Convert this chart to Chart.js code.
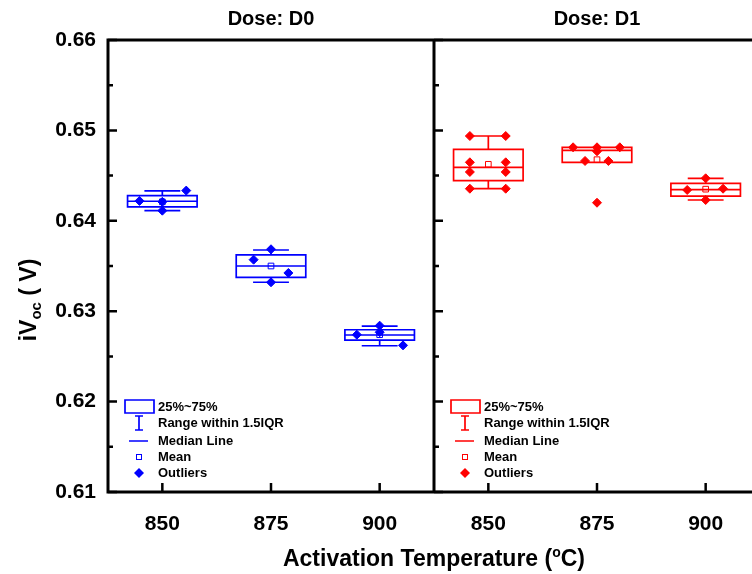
<!DOCTYPE html>
<html lang="en">
<head>
<meta charset="UTF-8" />
<title>iVoc vs activation temperature</title>
<script src="https://cdn.jsdelivr.net/npm/chart.js"></script>
<style>
  html, body { margin: 0; padding: 0; overflow: hidden; background: #fff; }
</style>
</head>
<body>
<canvas id="chart" width="770" height="574"></canvas>
<script>
const panels = ["Dose: D0", "Dose: D1"];
const tickLabels = ["850", "875", "900", "850", "875", "900"];
const yTicks = [0.61, 0.62, 0.63, 0.64, 0.65, 0.66];
const groupColors = ["#0000ff", "#0000ff", "#0000ff", "#ff0000", "#ff0000", "#ff0000"];
const legendLabels = ["25%~75%", "Range within 1.5IQR", "Median Line", "Mean", "Outliers"];

// box statistics, one entry per group: D0 850/875/900, D1 850/875/900
const q1 = [0.64153, 0.63375, 0.62681, 0.64444, 0.64647, 0.64274];
const median = [0.64216, 0.63500, 0.62737, 0.64592, 0.64780, 0.64344];
const q3 = [0.64278, 0.63622, 0.62795, 0.64791, 0.64813, 0.64415];
const whiskerLow = [0.64112, 0.63320, 0.62618, 0.64355, 0.64647, 0.64230];
const whiskerHigh = [0.64330, 0.63677, 0.62836, 0.64938, 0.64813, 0.64470];
const mean = [0.64210, 0.63500, 0.62740, 0.64625, 0.64676, 0.64350];

// measured points and their horizontal jitter (category units)
const points = [
  [0.64220, 0.64210, 0.64334, 0.64112],
  [0.63685, 0.63570, 0.63423, 0.63320],
  [0.62840, 0.62740, 0.62767, 0.62622],
  [0.64938, 0.64938, 0.64647, 0.64647, 0.64540, 0.64540, 0.64355, 0.64355],
  [0.64813, 0.64813, 0.64813, 0.64769, 0.64662, 0.64662, 0.64200],
  [0.64470, 0.64341, 0.64355, 0.64230]
];
const jitter = [
  [-0.21, 0, 0.22, 0],
  [0, -0.16, 0.16, 0],
  [0, -0.21, 0, 0.215],
  [-0.17, 0.16, -0.17, 0.16, -0.17, 0.16, -0.17, 0.16],
  [-0.22, 0, 0.21, 0, -0.11, 0.105, 0],
  [0, -0.17, 0.16, 0]
];

const FONT = "'Liberation Sans', Arial, sans-serif";
const BOX_W = 0.64;
const CAP_W = 0.33;

const datasets = [];
points.forEach((ys, g) => {
  datasets.push({
    data: ys.map((v, i) => ({ x: g + jitter[g][i], y: v })),
    pointStyle: "rectRot",
    pointRadius: 4.5,
    backgroundColor: groupColors[g],
    borderColor: groupColors[g],
    borderWidth: 1,
  });
  datasets.push({
    data: [{ x: g, y: mean[g] }],
    pointStyle: "rect",
    pointRadius: 4,
    backgroundColor: "rgba(0,0,0,0)",
    borderColor: groupColors[g],
    borderWidth: 1,
  });
});

const boxPlugin = {
  id: "boxes",
  beforeDatasetsDraw(chart) {
    const { ctx, scales: { x, y } } = chart;
    ctx.save();
    ctx.lineWidth = 1.7;
    q1.forEach((_, g) => {
      const c = x.getPixelForValue(g);
      const hb = x.getPixelForValue(g + BOX_W / 2) - c;
      const hc = x.getPixelForValue(g + CAP_W / 2) - c;
      const top = y.getPixelForValue(q3[g]);
      const bot = y.getPixelForValue(q1[g]);
      const hi = y.getPixelForValue(whiskerHigh[g]);
      const lo = y.getPixelForValue(whiskerLow[g]);
      const med = y.getPixelForValue(median[g]);
      ctx.strokeStyle = groupColors[g];
      ctx.beginPath();
      ctx.rect(c - hb, top, hb * 2, bot - top);
      ctx.moveTo(c - hb, med); ctx.lineTo(c + hb, med);
      ctx.moveTo(c, top); ctx.lineTo(c, hi);
      ctx.moveTo(c - hc, hi); ctx.lineTo(c + hc, hi);
      ctx.moveTo(c, bot); ctx.lineTo(c, lo);
      ctx.moveTo(c - hc, lo); ctx.lineTo(c + hc, lo);
      ctx.stroke();
    });
    ctx.restore();
  },
  afterDraw(chart) {
    const { ctx, chartArea: a, scales: { x, y } } = chart;
    const div = x.getPixelForValue(2.5);
    ctx.save();
    // frame
    ctx.strokeStyle = "#000";
    ctx.lineWidth = 3;
    ctx.beginPath();
    ctx.moveTo(a.left, a.top); ctx.lineTo(a.right, a.top);
    ctx.moveTo(a.left, a.bottom); ctx.lineTo(a.right, a.bottom);
    ctx.moveTo(a.left, a.top - 1.5); ctx.lineTo(a.left, a.bottom + 1.5);
    ctx.moveTo(div, a.top - 1.5); ctx.lineTo(div, a.bottom + 1.5);
    ctx.stroke();
    // inward ticks
    ctx.lineWidth = 2.5;
    ctx.beginPath();
    for (let i = 0; i < yTicks.length; i++) {
      const py = y.getPixelForValue(yTicks[i]);
      [a.left, div].forEach((ax) => { ctx.moveTo(ax, py); ctx.lineTo(ax + 9, py); });
      if (i < yTicks.length - 1) {
        const pm = y.getPixelForValue((yTicks[i] + yTicks[i + 1]) / 2);
        [a.left, div].forEach((ax) => { ctx.moveTo(ax, pm); ctx.lineTo(ax + 5, pm); });
      }
    }
    tickLabels.forEach((_, g) => {
      const px = x.getPixelForValue(g);
      ctx.moveTo(px, a.bottom); ctx.lineTo(px, a.bottom - 9);
    });
    ctx.stroke();

    // panel titles
    ctx.fillStyle = "#000";
    ctx.textAlign = "center";
    ctx.textBaseline = "middle";
    ctx.font = "bold 20px " + FONT;
    panels.forEach((t, p) => ctx.fillText(t, x.getPixelForValue(p * 3 + 1), 19));

    // axis titles with sub/superscripts
    const drawParts = (parts, cx, cy) => {
      let w = 0;
      parts.forEach((pt) => { ctx.font = "bold " + pt.size + "px " + FONT; w += ctx.measureText(pt.t).width; });
      let px = cx - w / 2;
      ctx.textAlign = "left";
      ctx.textBaseline = "alphabetic";
      parts.forEach((pt) => {
        ctx.font = "bold " + pt.size + "px " + FONT;
        ctx.fillText(pt.t, px, cy + pt.dy);
        px += ctx.measureText(pt.t).width;
      });
    };
    drawParts([
      { t: "Activation Temperature (", size: 23, dy: 0 },
      { t: "o", size: 14, dy: -9 },
      { t: "C)", size: 23, dy: 0 },
    ], (a.left + a.right) / 2, 566);

    ctx.save();
    ctx.translate(36, 300);
    ctx.rotate(-Math.PI / 2);
    drawParts([
      { t: "iV", size: 23, dy: 0 },
      { t: "oc", size: 15, dy: 5 },
      { t: " ( V)", size: 23, dy: 0 },
    ], 0, 0);
    ctx.restore();

    // legends
    const rows = [407, 423, 441, 457, 473];
    [0, 1].forEach((p) => {
      const ox = x.getPixelForValue(p * 3 - 0.5);
      const col = groupColors[p * 3];
      const ix = ox + 31;
      ctx.strokeStyle = col;
      ctx.fillStyle = col;
      ctx.lineWidth = 1.7;
      ctx.beginPath();
      ctx.rect(ox + 17, 400, 29, 13);
      ctx.moveTo(ix, 416); ctx.lineTo(ix, 430);
      ctx.moveTo(ix - 4, 416); ctx.lineTo(ix + 4, 416);
      ctx.moveTo(ix - 4, 430); ctx.lineTo(ix + 4, 430);
      ctx.moveTo(ox + 21, 441); ctx.lineTo(ox + 40, 441);
      ctx.stroke();
      ctx.lineWidth = 1;
      ctx.strokeRect(ix - 2.5, 454.5, 5, 5);
      ctx.beginPath();
      ctx.moveTo(ix - 5, 473); ctx.lineTo(ix, 468); ctx.lineTo(ix + 5, 473); ctx.lineTo(ix, 478);
      ctx.closePath();
      ctx.fill();
      ctx.fillStyle = "#000";
      ctx.font = "bold 13px " + FONT;
      ctx.textAlign = "left";
      ctx.textBaseline = "middle";
      legendLabels.forEach((t, i) => ctx.fillText(t, ox + 50, rows[i]));
    });
    ctx.restore();
  },
};

new Chart(document.getElementById("chart"), {
  type: "scatter",
  data: { datasets },
  options: {
    responsive: false,
    animation: false,
    devicePixelRatio: 1,
    layout: { padding: { top: 40, right: 10, left: 0, bottom: 0 } },
    plugins: { legend: { display: false }, tooltip: { enabled: false } },
    scales: {
      x: {
        type: "linear",
        min: -0.5,
        max: 5.5,
        afterBuildTicks: (s) => { s.ticks = tickLabels.map((_, i) => ({ value: i })); },
        afterFit: (s) => { s.height = 82; },
        grid: { display: false, drawTicks: false },
        border: { display: false },
        ticks: {
          callback: (v) => tickLabels[v] ?? "",
          font: { family: FONT, size: 21, weight: "bold" },
          color: "#000",
          padding: 20,
          maxRotation: 0,
        },
      },
      y: {
        min: 0.61,
        max: 0.66,
        afterBuildTicks: (s) => { s.ticks = yTicks.map((v) => ({ value: v })); },
        afterFit: (s) => { s.width = 108; },
        grid: { display: false, drawTicks: false },
        border: { display: false },
        ticks: {
          callback: (v) => v.toFixed(2),
          font: { family: FONT, size: 21, weight: "bold" },
          color: "#000",
          padding: 12,
        },
      },
    },
  },
  plugins: [boxPlugin],
});
</script>
</body>
</html>
